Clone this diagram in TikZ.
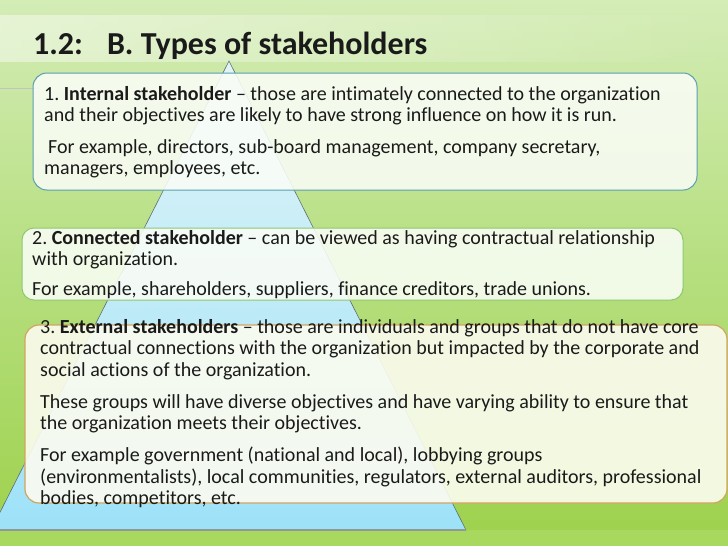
\documentclass[tikz,border=0pt]{standalone}
\usepackage{fontspec}
\setmainfont{Carlito}[Ligatures=NoCommon]
\usetikzlibrary{fadings}
\frenchspacing
\definecolor{bgtop}{HTML}{D4ECB6}
\definecolor{bgmid}{HTML}{B6DF80}
\definecolor{bgbot}{HTML}{9FD24E}
\definecolor{bandc}{HTML}{A8D85E}
\definecolor{pyrtop}{HTML}{E2F4F6}
\definecolor{pyrbot}{HTML}{9DE2F8}
\definecolor{pyrline}{HTML}{5E6E70}
\definecolor{boxonec}{HTML}{5A9EB2}
\definecolor{boxtwoc}{HTML}{8CC870}
\definecolor{boxthreec}{HTML}{D2A462}
\definecolor{boxfill}{HTML}{FAFDF6}
\definecolor{boxthreefill}{HTML}{FCFCF0}
\definecolor{txt}{HTML}{1A1A1A}
\tikzset{
  ln/.style={anchor=base west, inner sep=0pt, font=\fontsize{20}{24}\selectfont, text=txt},
  ttl/.style={anchor=base west, inner sep=0pt, font=\fontsize{32}{36}\selectfont\bfseries, text=txt},
  pyr/.style={draw=pyrline, line width=0.6pt, top color=pyrtop, bottom color=pyrbot},
  boxone/.style={draw=boxonec, line width=1pt, fill=boxfill, fill opacity=0.88, rounded corners=14pt},
  boxtwo/.style={draw=boxtwoc, line width=1pt, fill=boxfill, fill opacity=0.88, rounded corners=12pt},
  boxthree/.style={draw=boxthreec, line width=1.2pt, fill=boxthreefill, fill opacity=0.9, rounded corners=14pt},
}
\begin{document}
\begin{tikzpicture}[x=1pt,y=-1pt]
\useasboundingbox (0,0) rectangle (728,546);
% background
\fill[top color=bgtop, bottom color=bgbot, middle color=bgmid] (0,0) rectangle (728,530);
\fill[bandc] (0,530) rectangle (728,546);
\fill[white, opacity=0.45, path fading=east] (0,15) rectangle (728,62);
\draw[color=pyrline!40, line width=0.8pt] (0,88) -- (40,88);
% pyramid
\coordinate (apex) at (229,61);
\coordinate (bl) at (-9,530);
\coordinate (br) at (466,530);
\draw[pyr] (apex) -- (br) -- (bl) -- cycle;
\draw[color=pyrline!70, line width=1.2pt] (0,530) -- (br);
% boxes
\draw[boxone] (33,73) rectangle (697,190);
\draw[boxtwo] (22,228) rectangle (683,300);
\draw[boxthree] (25,325) rectangle (727,503);
% title
\node[ttl] (t) at (33,54) {1.2:\hspace{24pt}B. Types of stakeholders};
% box 1
\node[ln] (a1) at (44,100) {1. \textbf{Internal stakeholder} – those are intimately connected to the organization};
\node[ln] (a2) at (44,121) {and their objectives are likely to have strong influence on how it is run.};
\node[ln] (a3) at (48,153) {For example, directors, sub-board management, company secretary,};
\node[ln] (a4) at (44,174) {managers, employees, etc.};
% box 2
\node[ln] (b1) at (32,244) {2. \textbf{Connected stakeholder} – can be viewed as having contractual relationship};
\node[ln] (b2) at (32,265) {with organization.};
\node[ln] (b3) at (32,295) {For example, shareholders, suppliers, finance creditors, trade unions.};
% box 3
\node[ln] (c1) at (40,333) {3. \textbf{External stakeholders} – those are individuals and groups that do not have core};
\node[ln] (c2) at (40,354.5) {contractual connections with the organization but impacted by the corporate and};
\node[ln] (c3) at (40,376) {social actions of the organization.};
\node[ln] (c4) at (40,408) {These groups will have diverse objectives and have varying ability to ensure that};
\node[ln] (c5) at (40,429.5) {the organization meets their objectives.};
\node[ln] (c6) at (40,461.5) {For example government (national and local), lobbying groups};
\node[ln] (c7) at (40,483) {(environmentalists), local communities, regulators, external auditors, professional};
\node[ln] (c8) at (40,504.5) {bodies, competitors, etc.};
\end{tikzpicture}
\end{document}
